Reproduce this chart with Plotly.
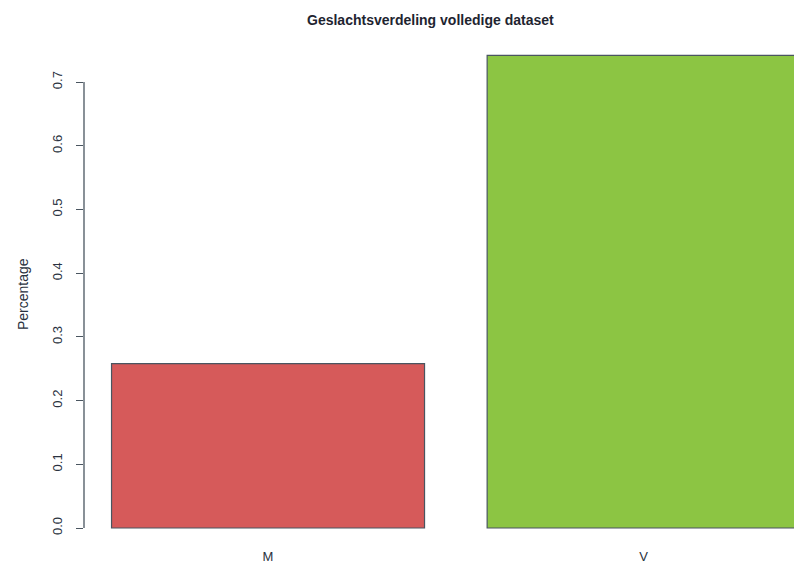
import plotly.graph_objects as go

categories = ["M", "V"]
values = [0.258, 0.742]
bar_colors = ["#D65A5A", "#8CC543"]
ytick_vals = [0.0, 0.1, 0.2, 0.3, 0.4, 0.5, 0.6, 0.7]
ytick_text = ["0.0", "0.1", "0.2", "0.3", "0.4", "0.5", "0.6", "0.7"]

# R barplot positions: width 1, space 0.2
x_pos = [0.2 + 0.5 + i * 1.2 for i in range(len(categories))]

W, H = 794, 568
ml, mr, mt, mb = 84, 0, 50, 21
px_per_unit_x = 313.0
px_per_unit_y = 637.0
y0_px = 528
plot_h = H - mt - mb
ymin = -((H - mb) - y0_px) / px_per_unit_y
ymax = (y0_px - mt) / px_per_unit_y
xmin = 0.112
xmax = xmin + (W - ml - mr) / px_per_unit_x

fig = go.Figure()
fig.add_trace(go.Bar(
    x=x_pos, y=values, width=1.0,
    marker=dict(color=bar_colors, line=dict(color="#4A5560", width=1.2)),
    hoverinfo="skip",
))

font_family = "Liberation Sans, Arial, sans-serif"

fig.update_layout(
    width=W, height=H,
    margin=dict(l=ml, r=mr, t=mt, b=mb, pad=0, autoexpand=False),
    paper_bgcolor="white", plot_bgcolor="white",
    showlegend=False,
    font=dict(family=font_family, color="#222833", size=13),
    xaxis=dict(range=[xmin, xmax], tickvals=x_pos, ticktext=categories,
               showgrid=False, zeroline=False, showline=False, ticks="",
               automargin=False,
               tickfont=dict(size=13, color="#2A3240"), fixedrange=True),
    yaxis=dict(range=[ymin, ymax], tickvals=ytick_vals, ticktext=ytick_text,
               showgrid=False, zeroline=False, showline=False,
               ticks="outside", ticklen=7, tickwidth=1.3, tickcolor="#4A5560",
               tickangle=-90, ticklabelstandoff=9, automargin=False,
               tickfont=dict(size=13, color="#2A3240"), fixedrange=True),
)

# y axis line from first to last tick (R style)
fig.add_shape(type="line", xref="paper", yref="y", x0=0, x1=0,
              y0=ytick_vals[0], y1=ytick_vals[-1],
              line=dict(color="#4A5560", width=1.3))

# title
fig.add_annotation(text="<b>Geslachtsverdeling volledige dataset</b>",
                   xref="paper", yref="paper",
                   x=(430 - ml) / (W - ml - mr), y=((H - mb) - 20) / plot_h,
                   xanchor="center", yanchor="middle", showarrow=False,
                   font=dict(size=14, color="#1E2430", family=font_family))

# y label
fig.add_annotation(text="Percentage", xref="paper", yref="paper",
                   x=(23 - ml) / (W - ml - mr), y=((H - mb) - 294) / plot_h,
                   xanchor="center", yanchor="middle", textangle=-90,
                   showarrow=False,
                   font=dict(size=14, color="#2A3240", family=font_family))

fig.write_html("out.html", config={"displayModeBar": False},
               post_script="document.body.style.margin='0';document.body.style.overflow='hidden';")
